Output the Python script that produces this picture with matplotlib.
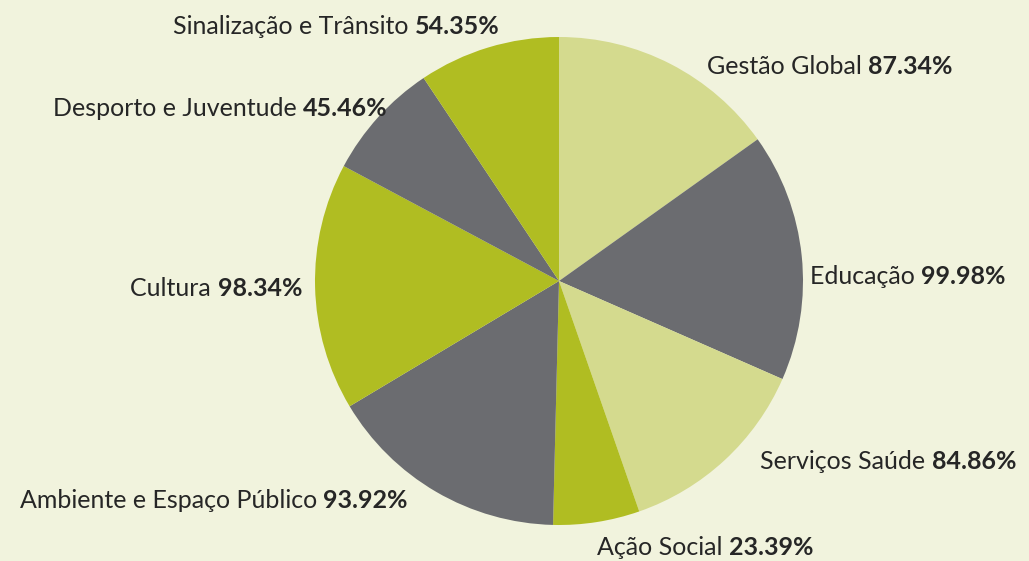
import matplotlib
matplotlib.use("Agg")
import matplotlib.pyplot as plt

categories = ["Gestão Global", "Educação", "Serviços Saúde", "Ação Social",
              "Ambiente e Espaço Público", "Cultura", "Desporto e Juventude",
              "Sinalização e Trânsito"]
values = [87.34, 99.98, 84.86, 23.39, 93.92, 98.34, 45.46, 54.35]
# slice sizes as drawn in the picture (degrees), not strictly proportional to values
slice_deg = [54.5, 59.2, 47.1, 20.6, 57.7, 59.0, 28.2, 33.7]

light = "#d4da8e"
gray = "#6b6c70"
olive = "#b0bd22"
colors = [light, gray, light, olive, gray, olive, gray, olive]

# label anchor (in pie-radius units) and side
label_pos = [(0.607, 0.881, "left"), (1.029, 0.020, "left"), (0.824, -0.738, "left"),
             (0.156, -1.094, "left"), (-0.619, -0.898, "right"), (-1.053, -0.029, "right"),
             (-0.701, 0.709, "right"), (-0.242, 1.041, "right")]

bg = "#f1f3dd"
W, H = 1029, 561
cx, cy, R = 559, 281, 244

fig = plt.figure(figsize=(W / 100, H / 100), dpi=100, facecolor=bg)
ax = fig.add_axes([0, 0, 1, 1])
ax.set_facecolor(bg)
ax.pie(slice_deg, colors=colors, startangle=90, counterclock=False,
       wedgeprops=dict(linewidth=0))
ax.set_aspect("equal", adjustable="datalim")
ax.set_xlim(-cx / R, (W - cx) / R)
ax.set_ylim(-(H - cy) / R, cy / R)
ax.axis("off")

fs = 18
tc = "#262626"
renderer = fig.canvas.get_renderer()
inv = ax.transData.inverted()

for name, v, (x, y, side) in zip(categories, values, label_pos):
    pct = f"{v:.2f}%"
    if side == "left":
        t1 = ax.text(x, y, name + " ", ha="left", va="center", fontsize=fs,
                     family="Lato", weight="normal", color=tc)
        bb = t1.get_window_extent(renderer)
        x2 = inv.transform((bb.x1, 0))[0]
        ax.text(x2, y, pct, ha="left", va="center", fontsize=fs,
                family="Lato", weight="bold", color=tc)
    else:
        t2 = ax.text(x, y, pct, ha="right", va="center", fontsize=fs,
                     family="Lato", weight="bold", color=tc)
        bb = t2.get_window_extent(renderer)
        x1 = inv.transform((bb.x0, 0))[0]
        ax.text(x1, y, name + " ", ha="right", va="center", fontsize=fs,
                family="Lato", weight="normal", color=tc)

fig.savefig("out.png", dpi=100, facecolor=bg)
